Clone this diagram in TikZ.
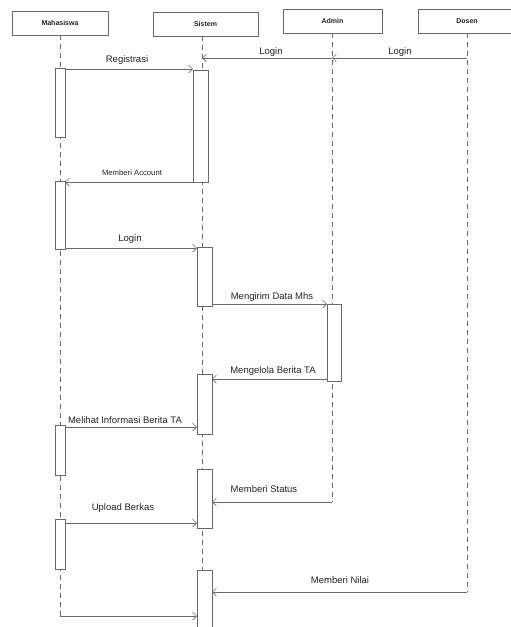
\documentclass[tikz,border=0pt]{standalone}
\usepackage{fontspec}
\setmainfont{Liberation Sans}
\usetikzlibrary{arrows.meta,positioning}
\definecolor{garis}{RGB}{105,105,105}
\definecolor{teks}{RGB}{35,35,35}

\begin{document}
\begin{tikzpicture}[x=1pt,y=-1pt,
  every node/.style={font=\fontsize{9.5}{10}\selectfont,text=teks,inner sep=0pt},
  aktor/.style={draw=garis,line width=.6pt,fill=white,minimum width=#1,minimum height=24pt,font=\fontsize{7}{8}\selectfont\bfseries},
  hidup/.style={draw=garis,line width=.6pt,dash pattern=on 5pt off 4pt},
  aktif/.style={draw=garis,line width=.6pt,fill=white},
  pesan/.style={draw=garis,line width=.6pt,-{Straight Barb[length=4pt,width=8pt]}}]
\clip (0,0) rectangle (511,627);
\node[aktor=96pt] (mhs) at (60,23) {Mahasiswa};
\node[aktor=105pt] (sis) at (205.5,24) {Sistem};
\node[aktor=99pt] (adm) at (332.5,21) {Admin};
\node[aktor=98pt] (dsn) at (467,21) {Dosen};
\coordinate (mT) at (60,35);
\coordinate (sT) at (202,36);
\coordinate (aT) at (332,33);
\coordinate (dT) at (467,33);
\coordinate (mE) at (60,616);
\coordinate (sE) at (202,630);
\coordinate (aE) at (332,502);
\coordinate (dE) at (467,592);
\draw[hidup] (mT)--(mE);
\draw[hidup] (sT)--(sE);
\draw[hidup] (aT)--(aE);
\draw[hidup] (dT)--(dE);
\draw[aktif] (55,68) rectangle (65,137);
\draw[aktif] (55,181) rectangle (65,249);
\draw[aktif] (55,425) rectangle (65,475);
\draw[aktif] (55,519) rectangle (65,569);
\draw[aktif] (193,70) rectangle (208,182);
\draw[aktif] (197,247) rectangle (212,306);
\draw[aktif] (197,374) rectangle (212,434);
\draw[aktif] (197,469) rectangle (212,528);
\draw[aktif] (197,570) rectangle (212,632);
\draw[aktif] (327,304) rectangle (341,381);
\coordinate (dL) at (467,58);
\coordinate (aL) at (332,58);
\coordinate (sL1) at (202,58);
\coordinate (mR) at (65,69);
\coordinate (sR) at (193,69);
\coordinate (sA) at (193,182);
\coordinate (mA) at (65,182);
\coordinate (mL) at (65,248);
\coordinate (sL2) at (197,248);
\coordinate (sM) at (212,304);
\coordinate (aM) at (327,304);
\coordinate (aB) at (327,379);
\coordinate (sB) at (212,379);
\coordinate (mI) at (65,427);
\coordinate (sI) at (197,427);
\coordinate (sS) at (212,502);
\coordinate (mU) at (65,523);
\coordinate (sU) at (197,523);
\coordinate (sN) at (212,592);
\coordinate (sF) at (197,616);
\draw[pesan] (dL)--(aL);
\draw[pesan] (aL)--(sL1);
\draw[pesan] (mR)--(sR);
\draw[pesan] (sA)--(mA);
\draw[pesan] (mL)--(sL2);
\draw[pesan] (sM)--(aM);
\draw[pesan] (aB)--(sB);
\draw[pesan] (mI)--(sI);
\draw[pesan] (aE)--(sS);
\draw[pesan] (mU)--(sU);
\draw[pesan] (dE)--(sN);
\draw[pesan] (mE)--(sF);
\node (tLogin1) at (400,52) {Login};
\node (tLogin2) at (271,52) {Login};
\node (tReg) at (127,60) {Registrasi};
\node[font=\fontsize{7.7}{8}\selectfont] (tAcc) at (132,173) {Memberi Account};
\node (tLogin3) at (130,239) {Login};
\node (tKirim) at (272,297) {Mengirim Data Mhs};
\node (tKelola) at (273,371) {Mengelola Berita TA};
\node (tLihat) at (125,420) {Melihat Informasi Berita TA};
\node (tStatus) at (264,489) {Memberi Status};
\node (tUpload) at (123,508) {Upload Berkas};
\node (tNilai) at (340,580) {Memberi Nilai};
\end{tikzpicture}
\end{document}
